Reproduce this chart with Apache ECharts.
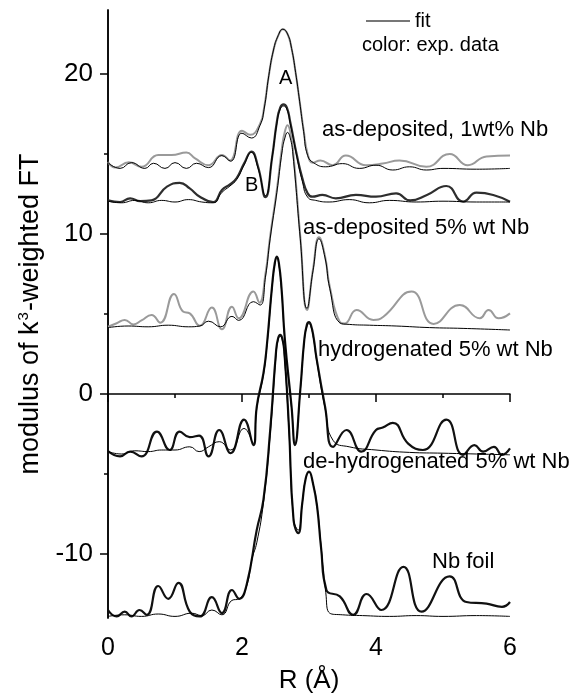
<!DOCTYPE html>
<html>
<head>
<meta charset="utf-8">
<script src="https://cdn.jsdelivr.net/npm/echarts@6/dist/echarts.min.js"></script>
<style>
  html, body { margin: 0; padding: 0; background: #fff; }
  #chart { width: 578px; height: 693px; }
</style>
</head>
<body>
<div id="chart"></div>
<script>
// [R, modulus] pairs, one array per curve
var asDep1Exp = [[0,14.5],[0.11,14.15],[0.31,14.48],[0.5,14.2],[0.75,14.94],[0.95,14.94],[1.17,15.09],[1.3,14.73],[1.5,14.3],[1.7,14.94],[1.82,14.6],[2.0,16.46],[2.12,16.2],[2.27,16.9],[2.33,17.9],[2.4,19.9],[2.47,21.5],[2.54,22.4],[2.61,22.8],[2.68,22.5],[2.74,21.6],[2.8,20.1],[2.86,18.3],[2.92,16.5],[2.98,15.0],[3.06,14.45],[3.17,14.6],[3.35,14.3],[3.55,14.9],[3.85,14.3],[4.1,14.4],[4.35,14.6],[4.75,14.2],[5.1,15.0],[5.37,14.3],[5.65,14.85],[6.0,14.9]];
var asDep1Fit = [[0,14.46],[0.18,14.1],[0.35,14.46],[0.55,14.1],[0.68,14.42],[0.85,14.1],[1.0,14.46],[1.17,14.1],[1.32,14.42],[1.5,14.15],[1.7,14.9],[1.83,14.55],[2.0,16.3],[2.14,16.0],[2.27,16.8],[2.33,17.8],[2.4,19.9],[2.47,21.5],[2.54,22.4],[2.61,22.8],[2.68,22.5],[2.74,21.6],[2.8,20.1],[2.86,18.3],[2.92,16.4],[2.98,14.9],[3.07,14.45],[3.25,14.2],[3.5,14.4],[3.75,14.1],[4.0,14.3],[4.25,14.0],[4.5,14.2],[4.75,14.0],[5.0,14.1],[5.5,14.05],[6.0,14.1]];

var bCurveExp = [[0,12.1],[0.18,12.0],[0.33,12.23],[0.48,12.05],[0.65,12.1],[0.88,12.96],[1.07,13.2],[1.22,12.85],[1.37,12.33],[1.57,12.0],[1.7,12.75],[1.82,13.1],[1.92,13.5],[2.03,14.4],[2.14,15.15],[2.24,14.2],[2.35,12.3],[2.45,14.8],[2.52,17.0],[2.57,17.9],[2.62,18.1],[2.67,17.9],[2.72,17.0],[2.82,14.9],[2.9,13.5],[2.98,12.54],[3.05,12.33],[3.2,12.44],[3.4,12.23],[3.7,12.44],[4.0,12.33],[4.3,12.54],[4.51,12.1],[4.76,12.44],[5.05,13.0],[5.3,12.02],[5.5,12.58],[5.75,12.44],[6.0,12.02]];
var bCurveFit = [[0,12.05],[0.2,11.95],[0.4,12.1],[0.6,11.95],[0.8,12.1],[1.0,12.0],[1.2,12.15],[1.4,12.0],[1.57,11.95],[1.7,12.6],[1.82,13.0],[1.92,13.4],[2.03,14.3],[2.14,15.1],[2.24,14.1],[2.35,12.4],[2.45,14.8],[2.52,16.9],[2.57,17.8],[2.62,18.0],[2.67,17.8],[2.72,16.9],[2.82,14.8],[2.9,13.3],[2.98,12.3],[3.1,12.1],[3.3,12.0],[3.6,12.15],[3.9,11.95],[4.2,12.1],[4.6,12.0],[5.0,12.05],[5.5,12.0],[6.0,12.0]];

var asDep5Exp = [[0,4.21],[0.13,4.42],[0.25,4.63],[0.38,4.35],[0.5,4.6],[0.65,4.94],[0.78,4.45],[0.985,6.25],[1.12,5.15],[1.22,5.04],[1.37,4.27],[1.55,5.4],[1.7,4.04],[1.85,5.46],[1.95,4.73],[2.17,6.4],[2.26,5.71],[2.35,7.5],[2.42,9.85],[2.52,12.75],[2.6,15.5],[2.64,16.4],[2.68,16.8],[2.72,16.4],[2.76,15.3],[2.87,9.85],[2.97,5.25],[3.06,7.8],[3.15,9.8],[3.24,8.6],[3.31,6.7],[3.46,4.5],[3.53,4.4],[3.71,5.25],[3.96,4.63],[4.11,4.83],[4.53,6.4],[4.86,4.38],[5.25,5.56],[5.55,4.73],[5.68,5.25],[5.83,4.73],[6.0,5.04]];
var asDep5Fit = [[0,4.15],[0.3,4.25],[0.6,4.2],[0.9,4.3],[1.2,4.2],[1.37,4.25],[1.5,4.55],[1.68,4.2],[1.85,4.85],[1.95,4.6],[2.17,5.77],[2.27,5.56],[2.35,7.3],[2.42,9.7],[2.52,12.6],[2.6,15.2],[2.64,16.0],[2.68,16.35],[2.72,16.0],[2.76,15.0],[2.87,9.7],[2.97,5.35],[3.06,7.7],[3.15,9.7],[3.24,8.5],[3.31,6.6],[3.46,4.45],[3.6,4.35],[3.9,4.3],[4.3,4.25],[4.8,4.15],[5.3,4.1],[6.0,4.0]];

var hydroExp = [[0,-3.56],[0.18,-3.9],[0.33,-3.6],[0.5,-3.9],[0.73,-2.35],[0.92,-3.5],[1.07,-2.35],[1.22,-2.7],[1.36,-2.6],[1.5,-3.9],[1.66,-2.25],[1.83,-3.7],[2.03,-1.6],[2.17,-3.2],[2.22,-0.8],[2.32,1.3],[2.37,3.0],[2.45,6.8],[2.49,8.2],[2.52,8.58],[2.55,8.2],[2.59,6.6],[2.64,3.4],[2.74,-0.8],[2.79,-3.19],[2.87,0.25],[2.93,3.4],[2.97,4.35],[3.0,4.5],[3.03,4.3],[3.07,3.5],[3.11,2.3],[3.24,-0.8],[3.36,-3.3],[3.56,-2.25],[3.78,-3.6],[4.0,-2.25],[4.1,-2.1],[4.25,-1.8],[4.48,-3.1],[4.7,-3.5],[5.05,-1.6],[5.3,-3.8],[5.47,-3.2],[5.6,-3.6],[5.76,-3.3],[5.88,-3.8],[6.0,-3.4]];
var hydroFit = [[0,-3.6],[0.2,-3.75],[0.4,-3.55],[0.6,-3.6],[0.8,-3.5],[1.0,-3.5],[1.22,-3.3],[1.36,-3.6],[1.5,-3.3],[1.66,-2.98],[1.83,-3.5],[2.03,-2.15],[2.17,-3.08],[2.22,-0.9],[2.32,1.2],[2.37,2.9],[2.45,6.7],[2.49,8.1],[2.52,8.5],[2.55,8.1],[2.59,6.5],[2.64,3.3],[2.74,-0.9],[2.79,-3.1],[2.87,0.2],[2.93,3.3],[2.97,4.25],[3.0,4.4],[3.03,4.2],[3.07,3.4],[3.11,2.2],[3.24,-0.9],[3.36,-2.9],[3.6,-3.3],[4.0,-3.5],[4.5,-3.65],[5.0,-3.7],[5.5,-3.75],[6.0,-3.8]];

var bottomExp = [[0,-13.5],[0.13,-13.9],[0.25,-13.6],[0.35,-13.9],[0.47,-13.5],[0.58,-13.8],[0.75,-12.0],[0.9,-12.8],[1.05,-11.8],[1.22,-13.6],[1.37,-13.9],[1.55,-12.7],[1.7,-13.7],[1.85,-12.25],[1.96,-12.8],[2.07,-11.9],[2.22,-8.5],[2.32,-6.6],[2.42,-2.3],[2.51,2.75],[2.54,3.5],[2.57,3.7],[2.6,3.5],[2.63,2.75],[2.7,-2.0],[2.77,-7.9],[2.84,-8.7],[2.9,-6.8],[2.95,-5.3],[3.0,-4.85],[3.06,-5.6],[3.12,-7.0],[3.18,-9.6],[3.26,-12.25],[3.46,-12.65],[3.66,-13.8],[3.86,-12.5],[4.08,-13.5],[4.41,-10.8],[4.68,-13.6],[5.1,-11.4],[5.35,-13.0],[5.65,-13.1],[5.88,-13.3],[6.0,-13.0]];
var bottomFit = [[0,-13.9],[0.25,-13.8],[0.5,-13.9],[0.75,-13.75],[1.0,-13.9],[1.25,-13.7],[1.4,-13.85],[1.55,-13.5],[1.7,-13.8],[1.85,-12.9],[1.96,-12.8],[2.07,-12.0],[2.15,-10.3],[2.22,-9.3],[2.32,-6.8],[2.42,-2.6],[2.51,2.5],[2.54,3.4],[2.57,3.6],[2.6,3.4],[2.63,2.5],[2.7,-2.2],[2.77,-7.8],[2.84,-8.5],[2.9,-6.8],[2.95,-5.3],[3.0,-4.9],[3.06,-5.6],[3.12,-7.0],[3.18,-9.5],[3.25,-12.4],[3.31,-13.7],[3.5,-13.8],[3.8,-13.85],[4.2,-13.9],[4.6,-13.85],[5.0,-13.9],[5.5,-13.85],[6.0,-13.9]];

var xTicks = [0, 2, 4, 6];
var yMajor = [-10, 0, 10, 20];
var yMinor = [-5, 5, 15];

var myChart = echarts.init(document.getElementById('chart'));

function expLine(data, color, width) {
  return { name: 'exp', type: 'line', data: data, symbol: 'none', smooth: 0.5,
    lineStyle: { color: color, width: width }, itemStyle: { color: color }, z: 2, silent: true };
}
function fitLine(data) {
  return { name: 'fit', type: 'line', data: data, symbol: 'none', smooth: 0.5,
    lineStyle: { color: '#000', width: 1 }, itemStyle: { color: '#000' }, z: 3, silent: true };
}

var font = 'Liberation Sans, Arial, sans-serif';
function note(text, x, y, size) {
  return { type: 'text', x: x, y: y, z: 10,
    style: { text: text, fill: '#000', font: size + 'px ' + font, verticalAlign: 'middle' } };
}

myChart.setOption({
  backgroundColor: '#ffffff',
  animation: false,
  textStyle: { fontFamily: font },
  grid: { left: 108, right: 68, top: 10, bottom: 75, containLabel: false, outerBoundsMode: 'none' },
  legend: {
    left: 361, top: 6, itemWidth: 44, itemHeight: 2, itemGap: 6,
    data: [{ name: 'fit', icon: 'rect', itemStyle: { color: '#777' } }],
    textStyle: { fontSize: 20, color: '#000', fontFamily: font, padding: [0, 0, 0, 0] },
    selectedMode: false
  },
  xAxis: {
    type: 'value', min: 0, max: 6, interval: 2,
    name: 'R (Å)', nameLocation: 'middle', nameGap: 50,
    nameTextStyle: { fontSize: 26, color: '#000' },
    axisLine: { lineStyle: { color: '#000', width: 1.5 } },
    axisTick: { length: 8, lineStyle: { color: '#000', width: 1.5 } },
    minorTick: { show: true, splitNumber: 2, length: 4, lineStyle: { color: '#000', width: 1.5 } },
    axisLabel: { fontSize: 25, color: '#000', margin: 18, customValues: xTicks },
    splitLine: { show: false }
  },
  yAxis: [{
    type: 'value', min: -14, max: 24,
    name: 'modulus of k{sup|3}-weighted FT', nameLocation: 'middle', nameGap: 53, nameRotate: 90,
    nameTextStyle: { fontSize: 27, color: '#000',
      rich: { sup: { fontSize: 15, verticalAlign: 'top', padding: [0, 1, 14, 1] } } },
    axisLine: { lineStyle: { color: '#000', width: 1.5 } },
    axisTick: { length: 8, customValues: yMajor, lineStyle: { color: '#000', width: 1.5 } },
    axisLabel: { fontSize: 26, color: '#000', margin: 15, customValues: yMajor },
    splitLine: { show: false }
  }, {
    type: 'value', min: -14, max: 24, position: 'left',
    axisLine: { show: true, lineStyle: { color: '#000', width: 1.5 } },
    axisTick: { length: 4, customValues: yMinor, lineStyle: { color: '#000', width: 1.5 } },
    axisLabel: { show: false },
    splitLine: { show: false }
  }],
  graphic: [
    note('color: exp. data', 362, 45, 20),
    note('A', 279, 78, 20),
    note('B', 245, 185, 20),
    note('as-deposited, 1wt% Nb', 322, 130, 22),
    note('as-deposited 5% wt Nb', 303, 228, 22),
    note('hydrogenated 5% wt Nb', 318, 350, 22),
    note('de-hydrogenated 5% wt Nb', 303, 462, 22),
    note('Nb foil', 432, 562, 22)
  ],
  series: [
    expLine(asDep1Exp, '#9a9a9a', 2),
    fitLine(asDep1Fit),
    expLine(bCurveExp, '#2e2e2e', 2.2),
    fitLine(bCurveFit),
    expLine(asDep5Exp, '#9a9a9a', 2),
    fitLine(asDep5Fit),
    expLine(hydroExp, '#111', 2.2),
    fitLine(hydroFit),
    expLine(bottomExp, '#111', 2.2),
    fitLine(bottomFit)
  ]
});
</script>
</body>
</html>
